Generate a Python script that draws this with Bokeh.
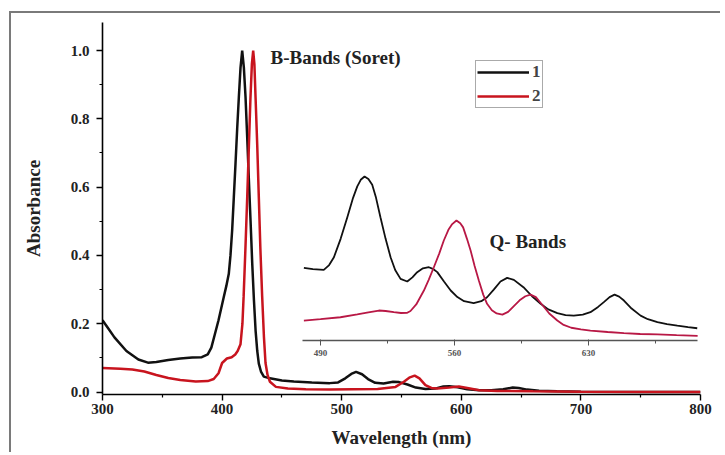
from bokeh.plotting import figure
from bokeh.models import (Range1d, LinearAxis, FixedTicker, Legend, LegendItem, Label)
from bokeh.embed import file_html
from bokeh.resources import INLINE

# ---- main spectra (wavelength nm, absorbance) ----
wl_1 = [300, 305, 310, 320, 330, 338, 345, 355, 365, 375, 383, 388, 391, 394, 397,
        401.4, 403.5, 405.6, 407, 408.4, 409.8, 411.2, 412.6, 414, 415.4, 416.8,
        418.2, 419.6, 421, 422.4, 423.8, 425.2, 426.6, 428, 429.4, 430.7, 432.5,
        434.9, 440, 450, 460, 475, 490, 497, 503, 508, 512, 517, 522, 528, 535, 543,
        548, 555, 562, 570, 578, 585, 590, 597, 605, 615, 625, 635, 643, 648, 655,
        665, 680, 700, 750, 800]
abs_1 = [0.21, 0.185, 0.16, 0.12, 0.095, 0.086, 0.088, 0.094, 0.098, 0.101, 0.102,
         0.11, 0.13, 0.17, 0.21, 0.278, 0.31, 0.346, 0.40, 0.473, 0.57, 0.668, 0.77,
         0.863, 0.95, 1.0, 0.95, 0.863, 0.745, 0.62, 0.50, 0.376, 0.27, 0.18, 0.12,
         0.083, 0.06, 0.045, 0.04, 0.034, 0.031, 0.028, 0.026, 0.028, 0.04, 0.053,
         0.059, 0.052, 0.038, 0.027, 0.025, 0.03, 0.029, 0.022, 0.013, 0.009, 0.01,
         0.016, 0.017, 0.014, 0.008, 0.005, 0.005, 0.008, 0.013, 0.012, 0.007, 0.004,
         0.002, 0.001, 0.0, 0.0]

wl_2 = [300, 315, 325, 335, 345, 355, 365, 378, 388, 393, 397, 400, 404, 408, 411,
        413, 415.4, 417, 418, 419.5, 421, 422.4, 423.7, 424.9, 426, 427, 428, 429.4,
        430.7, 432, 433.5, 435, 436.3, 438, 440, 445, 455, 470, 490, 510, 530, 545,
        552, 557, 561, 565, 570, 575, 580, 590, 598, 605, 615, 630, 660, 700, 800]
abs_2 = [0.07, 0.068, 0.066, 0.06, 0.05, 0.041, 0.035, 0.031, 0.032, 0.038, 0.055,
         0.085, 0.098, 0.102, 0.11, 0.12, 0.14, 0.2, 0.28, 0.42, 0.57, 0.72, 0.86,
         0.96, 1.0, 0.96, 0.86, 0.72, 0.57, 0.42, 0.28, 0.16, 0.085, 0.05, 0.03,
         0.015, 0.01, 0.008, 0.007, 0.008, 0.009, 0.015, 0.03, 0.043, 0.048, 0.04,
         0.02, 0.012, 0.01, 0.013, 0.016, 0.012, 0.005, 0.003, 0.002, 0.001, 0.0]

# ---- inset: Q-bands (wavelength nm, relative absorbance) ----
inset_wl_1 = [481.3, 486, 491.7, 494.5, 497, 500.5, 504, 507, 509.2, 511, 513, 515,
              517, 519, 521.3, 524, 526.6, 529, 531.8, 535.3, 538, 540.5, 543.5,
              546.6, 549, 551, 554.5, 558, 561.5, 565, 570, 574, 577, 580.5, 584,
              587.5, 591, 596, 600.5, 605, 609, 613.7, 618, 622.3, 627, 631, 635, 638,
              641, 643.6, 646, 648.5, 652.5, 657.2, 661, 666, 671, 676.4, 682, 686.8]
inset_abs_1 = [0.443, 0.435, 0.431, 0.46, 0.508, 0.62, 0.752, 0.87, 0.94, 0.98, 1.0,
               0.985, 0.95, 0.87, 0.752, 0.62, 0.508, 0.43, 0.376, 0.36, 0.385, 0.417,
               0.44, 0.447, 0.435, 0.417, 0.36, 0.305, 0.265, 0.24, 0.228, 0.24, 0.264,
               0.31, 0.36, 0.382, 0.37, 0.325, 0.27, 0.224, 0.19, 0.167, 0.155, 0.152,
               0.158, 0.173, 0.205, 0.234, 0.265, 0.28, 0.268, 0.244, 0.195, 0.152,
               0.13, 0.112, 0.1, 0.091, 0.082, 0.075]

inset_wl_2 = [481.3, 490, 500.4, 509.2, 515, 520.5, 524, 528.3, 532, 535.3, 537, 540,
              544, 546.5, 549.2, 552, 554.4, 556.8, 558.8, 561, 563, 564.5, 566.5,
              568.4, 570.5, 572.7, 575, 577, 579.5, 582, 585, 588, 591, 594, 597, 599.7,
              602.5, 606, 609.5, 613.7, 617, 621, 626, 631, 640, 648.5, 657, 666, 676,
              687]
inset_abs_2 = [0.122, 0.13, 0.142, 0.159, 0.172, 0.183, 0.18, 0.173, 0.168, 0.169,
               0.18, 0.22, 0.305, 0.37, 0.447, 0.53, 0.61, 0.675, 0.71, 0.732, 0.715,
               0.69, 0.62, 0.549, 0.455, 0.366, 0.28, 0.224, 0.185, 0.165, 0.158, 0.175,
               0.21, 0.245, 0.27, 0.28, 0.265, 0.215, 0.165, 0.122, 0.095, 0.078, 0.068,
               0.061, 0.052, 0.045, 0.04, 0.037, 0.033, 0.029]

x_ticks = [300, 400, 500, 600, 700, 800]
x_minor = [350, 450, 550, 650, 750]
y_ticks = [0.0, 0.2, 0.4, 0.6, 0.8, 1.0]
y_minor = [0.1, 0.3, 0.5, 0.7, 0.9]
inset_ticks = [490, 560, 630]
inset_minor = [525, 595, 665]

series_labels = ["1", "2"]

FONT = "Liberation Serif"
BLACK = "#111111"
RED = "#c8141e"
INSET_RED = "#b81845"
TXT = "#222222"
FRAME_GRAY = "#7a7a7a"

p = figure(width=720, height=452, output_backend="svg", toolbar_location=None,
           x_range=Range1d(300, 800), y_range=Range1d(-0.0073, 1.082),
           min_border_left=102, min_border_right=20, min_border_top=22,
           min_border_bottom=58,
           x_axis_label="Wavelength (nm)", y_axis_label="Absorbance")
# gray picture frame (left and top edges) painted behind a transparent canvas border
p.styles = {
    "background-color": "white",
    "background-image": (f"linear-gradient({FRAME_GRAY}, {FRAME_GRAY}), "
                         f"linear-gradient({FRAME_GRAY}, {FRAME_GRAY})"),
    "background-size": "2px 100%, 100% 2px",
    "background-position": "9px 11px, 9px 11px",
    "background-repeat": "no-repeat",
}
p.xgrid.visible = False
p.ygrid.visible = False
p.outline_line_color = None
p.background_fill_color = "white"
p.border_fill_color = None

for ax in (p.xaxis[0], p.yaxis[0]):
    ax.axis_line_color = "black"
    ax.axis_line_width = 1.6
    ax.major_tick_line_color = "black"
    ax.major_tick_line_width = 1.4
    ax.minor_tick_line_color = "black"
    ax.minor_tick_line_width = 1.2
    ax.major_tick_out = 6
    ax.major_tick_in = 0
    ax.minor_tick_out = 3
    ax.minor_tick_in = 0
    ax.major_label_text_font = FONT
    ax.major_label_text_font_style = "bold"
    ax.major_label_text_font_size = "15px"
    ax.major_label_text_color = TXT
    ax.axis_label_text_font = FONT
    ax.axis_label_text_font_style = "bold"
    ax.axis_label_text_font_size = "19px"
    ax.axis_label_text_color = TXT

p.xaxis[0].ticker = FixedTicker(ticks=x_ticks, minor_ticks=x_minor)
p.yaxis[0].ticker = FixedTicker(ticks=y_ticks, minor_ticks=y_minor)
p.xaxis[0].major_label_standoff = 3
p.xaxis[0].axis_label_standoff = 10
p.yaxis[0].major_label_standoff = 7
p.yaxis[0].axis_label_standoff = 24
p.yaxis[0].major_label_overrides = {v: f"{v:.1f}" for v in y_ticks}

# main curves
r1 = p.line(wl_1, abs_1, line_color=BLACK, line_width=2.5)
r2 = p.line(wl_2, abs_2, line_color=RED, line_width=2.5)

# inset on extra ranges
p.extra_x_ranges = {"inset": Range1d(376.1, 688.5)}
p.extra_y_ranges = {"inset_y": Range1d(-0.329, 1.939)}
p.line(inset_wl_1, inset_abs_1, line_color=BLACK, line_width=1.8,
       x_range_name="inset", y_range_name="inset_y")
p.line(inset_wl_2, inset_abs_2, line_color=INSET_RED, line_width=1.8,
       x_range_name="inset", y_range_name="inset_y")

inset_axis = LinearAxis(x_range_name="inset", y_range_name="inset_y",
                        fixed_location=0, bounds=(480.6, 686.9),
                        ticker=FixedTicker(ticks=inset_ticks, minor_ticks=inset_minor))
inset_axis.axis_line_color = "#555555"
inset_axis.axis_line_width = 1.5
inset_axis.major_tick_line_color = "#555555"
inset_axis.minor_tick_line_color = "#555555"
inset_axis.major_tick_out = 5
inset_axis.major_tick_in = 1
inset_axis.minor_tick_out = 3
inset_axis.minor_tick_in = 0
inset_axis.major_label_standoff = 4
inset_axis.major_label_text_font = FONT
inset_axis.major_label_text_font_style = "bold"
inset_axis.major_label_text_font_size = "9px"
inset_axis.major_label_text_color = "#555555"
p.add_layout(inset_axis, "below")

# legend
legend = Legend(items=[LegendItem(label=series_labels[0], renderers=[r1]),
                       LegendItem(label=series_labels[1], renderers=[r2])],
                location=(373, 286), margin=0, padding=1, spacing=4,
                glyph_width=52, glyph_height=18, label_height=18, label_width=8,
                label_standoff=3, label_text_font=FONT,
                label_text_font_style="bold", label_text_font_size="17px",
                border_line_color="#555555", border_line_width=1.2,
                background_fill_color="white", background_fill_alpha=1.0)
p.add_layout(legend)

# annotations
p.add_layout(Label(x=440.5, y=0.98, text="B-Bands (Soret)", text_font=FONT,
                   text_font_style="bold", text_font_size="19px",
                   text_baseline="middle", text_align="left", text_color=TXT))
p.add_layout(Label(x=623.6, y=0.44, text="Q- Bands", text_font=FONT,
                   text_font_style="bold", text_font_size="19px",
                   text_baseline="middle", text_align="left", text_color=TXT))

open("out.html", "w").write(file_html(p, INLINE))
